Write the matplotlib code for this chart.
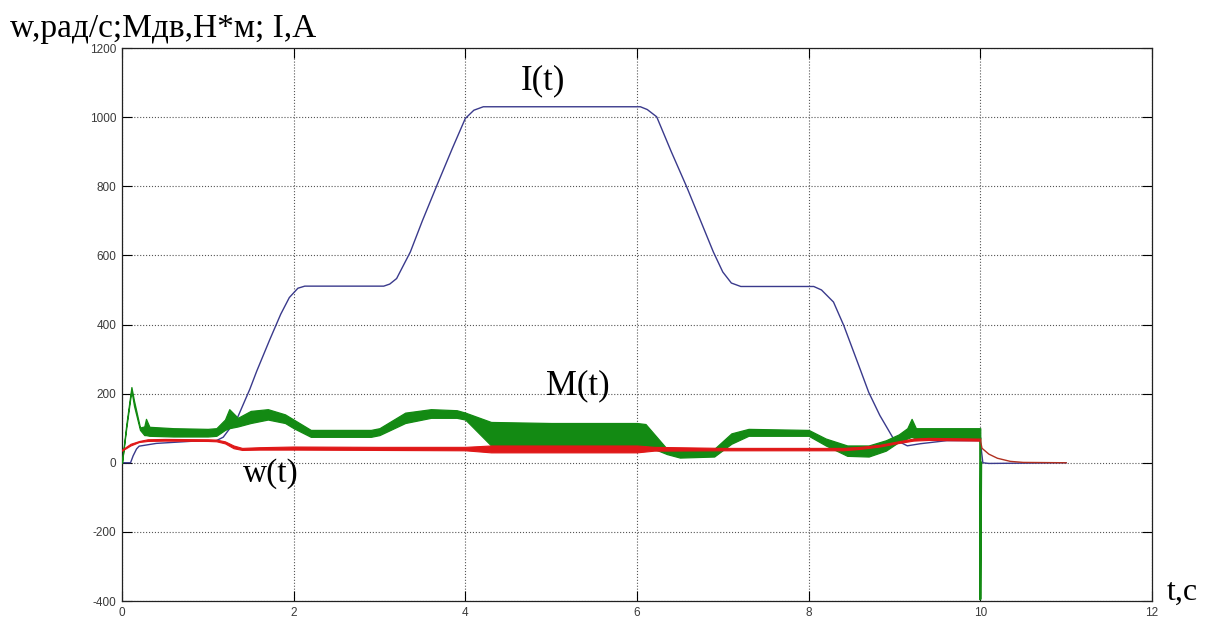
import matplotlib
matplotlib.use('Agg')
import matplotlib.pyplot as plt

plt.rcParams['axes.unicode_minus'] = False

# I(t) - ток, А
t_i = [0, 0.1, 0.13, 0.17, 0.2, 0.4, 0.8, 1.1, 1.18, 1.34, 1.49, 1.57, 1.72, 1.85,
       1.95, 2.05, 2.13, 3.05, 3.12, 3.2, 3.36, 3.5, 3.67, 3.85, 4.0, 4.1, 4.21,
       6.04, 6.12, 6.23, 6.4, 6.58, 6.75, 6.89, 7.0, 7.1, 7.21, 8.06, 8.15, 8.29,
       8.41, 8.6, 8.7, 8.83, 8.99, 9.15, 9.3, 9.61, 10.0, 10.03, 10.1, 11.0]
i_val = [0, 0, 20, 40, 48, 56, 62, 64, 74, 127, 213, 265, 355, 430,
         478, 505, 511, 511, 517, 533, 610, 700, 803, 910, 996, 1020, 1030,
         1030, 1022, 1001, 900, 798, 695, 610, 552, 520, 510, 510, 500, 465,
         397, 271, 204, 137, 69, 49, 55, 64, 64, 0, -2, 0]

# M(t) - момент двигателя, верхняя и нижняя огибающие
t_m = [0, 0.05, 0.11, 0.14, 0.21, 0.26, 0.28, 0.32, 0.6, 1.0, 1.1, 1.2, 1.25, 1.35,
       1.5, 1.7, 1.9, 2.0, 2.2, 2.5, 2.9, 3.0, 3.3, 3.6, 3.9, 4.0, 4.3, 5.0, 6.0,
       6.1, 6.35, 6.5, 6.9, 7.1, 7.3, 8.0, 8.2, 8.45, 8.7, 8.9, 9.05, 9.15, 9.2,
       9.25, 9.5, 10.0]
m_hi = [0, 110, 219, 180, 102, 105, 127, 104, 100, 98, 100, 125, 155, 130,
        150, 155, 140, 125, 95, 95, 95, 100, 145, 155, 152, 145, 118, 115, 115,
        112, 40, 35, 40, 85, 98, 95, 70, 50, 50, 65, 82, 100, 127, 100, 100, 100]
m_lo = [0, 100, 210, 165, 95, 80, 80, 78, 76, 76, 78, 95, 100, 105,
        115, 125, 115, 100, 75, 75, 75, 80, 115, 130, 130, 125, 50, 48, 48,
        50, 25, 15, 18, 55, 78, 78, 50, 20, 18, 35, 60, 70, 75, 70, 70, 70]
# провал момента при t = 10 с
t_m_tail = [10.0, 10.0, 10.01]
m_tail = [70, -395, 0]

# w(t) - скорость, рад/с, огибающие
t_w = [0, 0.1, 0.2, 0.3, 0.5, 1.0, 1.1, 1.2, 1.3, 1.4, 1.6, 2.0, 3.0, 4.0, 4.3,
       6.0, 6.2, 7.0, 8.0, 8.4, 8.6, 8.83, 9.0, 9.22, 9.4, 10.0]
w_hi = [38, 55, 63, 68, 69, 68, 67, 62, 50, 43, 45, 47, 46, 46, 50,
        50, 46, 43, 43, 43, 46, 52, 60, 70, 72, 70]
w_lo = [35, 50, 60, 63, 64, 63, 62, 56, 42, 37, 38, 38, 37, 36, 30,
        30, 35, 36, 36, 36, 40, 47, 55, 64, 66, 64]
t_w_tail = [10.0, 10.02, 10.1, 10.2, 10.35, 10.5, 11.0]
w_tail = [67, 42, 25, 13, 4, 1, 0]

xticks = [0, 2, 4, 6, 8, 10, 12]
yticks = [-400, -200, 0, 200, 400, 600, 800, 1000, 1200]

fig = plt.figure(figsize=(12.16, 6.21), dpi=100)
ax = fig.add_axes([0.1003, 0.0322, 0.847, 0.8905])

blue = '#3a3a8c'
green = '#138a13'
red = '#e01818'

ax.plot(t_i, i_val, color=blue, lw=1.0, zorder=3)
ax.fill_between(t_m, m_lo, m_hi, color=green, lw=0.9, zorder=4)
ax.plot(t_m_tail, m_tail, color=green, lw=1.6, zorder=4)
ax.fill_between(t_w, w_lo, w_hi, color=red, lw=0.8, zorder=5)
ax.plot(t_w_tail, w_tail, color='#b03020', lw=1.0, zorder=5)

ax.set_xlim(0, 12)
ax.set_ylim(-400, 1200)
ax.set_xticks(xticks)
ax.set_yticks(yticks)
ax.tick_params(direction='in', length=7, width=0.8, top=True, right=True,
               labelsize=8.5, labelcolor='#3a3a3a', pad=4)
for lab in ax.get_xticklabels() + ax.get_yticklabels():
    lab.set_family('Liberation Sans')
ax.grid(True, color='#555555', linestyle=':', lw=0.8)
for s in ax.spines.values():
    s.set_linewidth(0.9)
    s.set_color('#222222')

ax.text(4.91, 1105, 'I(t)', family='Liberation Serif', fontsize=25,
        ha='center', va='center', zorder=6)
ax.text(5.31, 222, 'M(t)', family='Liberation Serif', fontsize=25,
        ha='center', va='center', zorder=6)
ax.text(1.73, -30, 'w(t)', family='Liberation Serif', fontsize=24,
        ha='center', va='center', zorder=6)

fig.text(10 / 1216, 1 - 37 / 621, 'w,рад/с;Мдв,Н*м; I,А', family='Liberation Serif',
         fontsize=24, ha='left', va='baseline')
fig.text(1182 / 1216, 1 - 592 / 621, 't,c', family='Liberation Serif',
         fontsize=23, ha='center', va='center')

fig.savefig('out.png', dpi=100)
